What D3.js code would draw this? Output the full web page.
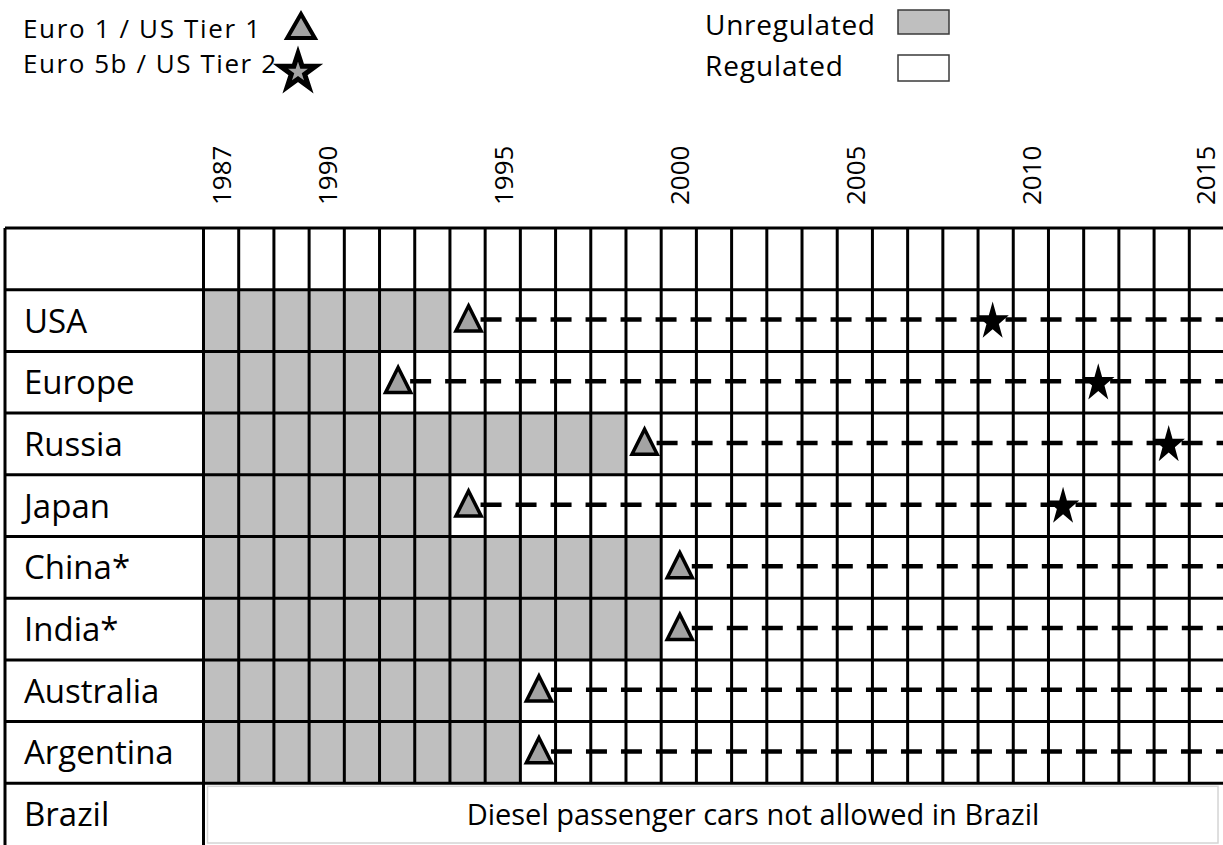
<!DOCTYPE html>
<html>
<head>
<meta charset="utf-8">
<script src="https://cdn.jsdelivr.net/npm/d3@7"></script>
<style>
  body { margin: 0; background: #fff; }
  text { font-family: "Open Sans", sans-serif; fill: #000; }
</style>
</head>
<body>
<svg width="1223" height="845"></svg>
<script>
// emission standards timeline per country
const years = d3.range(1987, 2016);
const yearLabels = [1987, 1990, 1995, 2000, 2005, 2010, 2015];
const countries = ["USA", "Europe", "Russia", "Japan", "China*", "India*", "Australia", "Argentina"];
// first regulated year (Euro 1 / US Tier 1)
const euro1 = [1994, 1992, 1999, 1994, 2000, 2000, 1996, 1996];
// Euro 5b / US Tier 2 year (null = not reached)
const euro5b = [2009, 2012, 2014, 2011, null, null, null, null];
const brazilNote = "Diesel passenger cars not allowed in Brazil";

const svg = d3.select("svg");
const grey = "#bfbfbf";
const markGrey = "#a3a3a3";

const tableLeft = 5;
const gridLeft = 203.5;
const gridRight = 1224.5;
const gridTop = 228;

const x = d3.scaleBand().domain(years).range([gridLeft, gridRight]);
const rows = ["header"].concat(countries, ["Brazil"]);
const y = d3.scaleBand().domain(rows).range([gridTop, gridTop + 61.7 * rows.length]);
const mid = (c) => y(c) + y.bandwidth() / 2;

const data = countries.map((c, i) => ({ country: c, start: euro1[i], tier2: euro5b[i] }));

//unregulated cells
const cells = svg.append("g");
data.forEach((d) => {
  cells
    .selectAll(null)
    .data(years.filter((yr) => yr < d.start))
    .enter()
    .append("rect")
    .attr("x", (yr) => x(yr))
    .attr("y", y(d.country))
    .attr("width", x.bandwidth())
    .attr("height", y.bandwidth())
    .attr("fill", grey);
});

//grid lines
const grid = svg.append("g").attr("stroke", "#000").attr("stroke-width", 3);
grid
  .selectAll(".v")
  .data(years.slice(1))
  .enter()
  .append("line")
  .attr("x1", (yr) => x(yr))
  .attr("x2", (yr) => x(yr))
  .attr("y1", gridTop)
  .attr("y2", y("Brazil"));
grid
  .selectAll(".h")
  .data(rows)
  .enter()
  .append("line")
  .attr("x1", tableLeft)
  .attr("x2", 1223)
  .attr("y1", (r) => y(r))
  .attr("y2", (r) => y(r));
grid.append("line").attr("x1", tableLeft).attr("x2", tableLeft).attr("y1", gridTop).attr("y2", 845);
grid.append("line").attr("x1", gridLeft).attr("x2", gridLeft).attr("y1", gridTop).attr("y2", 845);

//brazil box
svg
  .append("rect")
  .attr("x", gridLeft + 4)
  .attr("y", y("Brazil") + 3)
  .attr("width", 1218 - gridLeft - 4)
  .attr("height", y.bandwidth() - 5)
  .attr("fill", "#fff")
  .attr("stroke", "#d4d4d4")
  .attr("stroke-width", 1.5);
svg
  .append("text")
  .attr("x", 753)
  .attr("y", mid("Brazil") + 11)
  .attr("text-anchor", "middle")
  .attr("font-size", 29)
  .text(brazilNote);

//row labels
svg
  .selectAll(".rowlabel")
  .data(countries.concat(["Brazil"]))
  .enter()
  .append("text")
  .attr("x", 24)
  .attr("y", (c) => mid(c) + 12)
  .attr("font-size", 33)
  .text((c) => c);

//year labels
svg
  .selectAll(".year")
  .data(yearLabels)
  .enter()
  .append("text")
  .attr("transform", (yr) => `translate(${Math.min(x(yr) + x.bandwidth() / 2 + 10, 1215)},205) rotate(-90)`)
  .attr("font-size", 26)
  .text((yr) => yr);

//dashed lines after Euro 1
svg
  .append("g")
  .selectAll("line")
  .data(data)
  .enter()
  .append("line")
  .attr("x1", (d) => x(d.start) + x.bandwidth() / 2 + 13)
  .attr("x2", 1223)
  .attr("y1", (d) => mid(d.country) - 1)
  .attr("y2", (d) => mid(d.country) - 1)
  .attr("stroke", "#000")
  .attr("stroke-width", 4.5)
  .attr("stroke-dasharray", "21,14");

const tri = d3.symbol().type(d3.symbolTriangle).size(275);
const star = d3.symbol().type(d3.symbolStar).size(450);

//triangles
svg
  .append("g")
  .selectAll("path")
  .data(data)
  .enter()
  .append("path")
  .attr("d", tri)
  .attr("transform", (d) => `translate(${x(d.start) + x.bandwidth() / 2 + 1},${mid(d.country) + 2}) scale(1,1.15)`)
  .attr("fill", markGrey)
  .attr("stroke", "#000")
  .attr("stroke-width", 3.5)
  .attr("stroke-linejoin", "miter")
  .attr("vector-effect", "non-scaling-stroke");

//stars
svg
  .append("g")
  .selectAll("path")
  .data(data.filter((d) => d.tier2))
  .enter()
  .append("path")
  .attr("d", star)
  .attr("transform", (d) => `translate(${x(d.tier2) + x.bandwidth() / 2 - 3},${mid(d.country) + 1}) scale(0.85,1)`)
  .attr("fill", "#000");

//legend
const legend = svg.append("g");
legend.append("text").attr("x", 23).attr("y", 38).attr("font-size", 26)
  .attr("textLength", 237).attr("lengthAdjust", "spacing").text("Euro 1 / US Tier 1");
legend.append("text").attr("x", 23).attr("y", 73).attr("font-size", 26)
  .attr("textLength", 253).attr("lengthAdjust", "spacing").text("Euro 5b / US Tier 2");
legend
  .append("path")
  .attr("d", d3.symbol().type(d3.symbolTriangle).size(330))
  .attr("transform", "translate(301,30)")
  .attr("fill", markGrey)
  .attr("stroke", "#000")
  .attr("stroke-width", 4);
legend
  .append("path")
  .attr("d", d3.symbol().type(d3.symbolStar).size(380))
  .attr("transform", "translate(298,72)")
  .attr("fill", markGrey)
  .attr("stroke", "#000")
  .attr("stroke-width", 5);

legend.append("text").attr("x", 705).attr("y", 35).attr("font-size", 28)
  .attr("textLength", 170).attr("lengthAdjust", "spacing").text("Unregulated");
legend.append("text").attr("x", 705).attr("y", 76).attr("font-size", 28)
  .attr("textLength", 138).attr("lengthAdjust", "spacing").text("Regulated");
legend
  .append("rect")
  .attr("x", 898).attr("y", 10).attr("width", 51).attr("height", 24)
  .attr("fill", grey).attr("stroke", "#3a3a3a").attr("stroke-width", 1.5);
legend
  .append("rect")
  .attr("x", 898).attr("y", 55).attr("width", 51).attr("height", 26)
  .attr("fill", "#fff").attr("stroke", "#3a3a3a").attr("stroke-width", 1.5);
</script>
</body>
</html>
